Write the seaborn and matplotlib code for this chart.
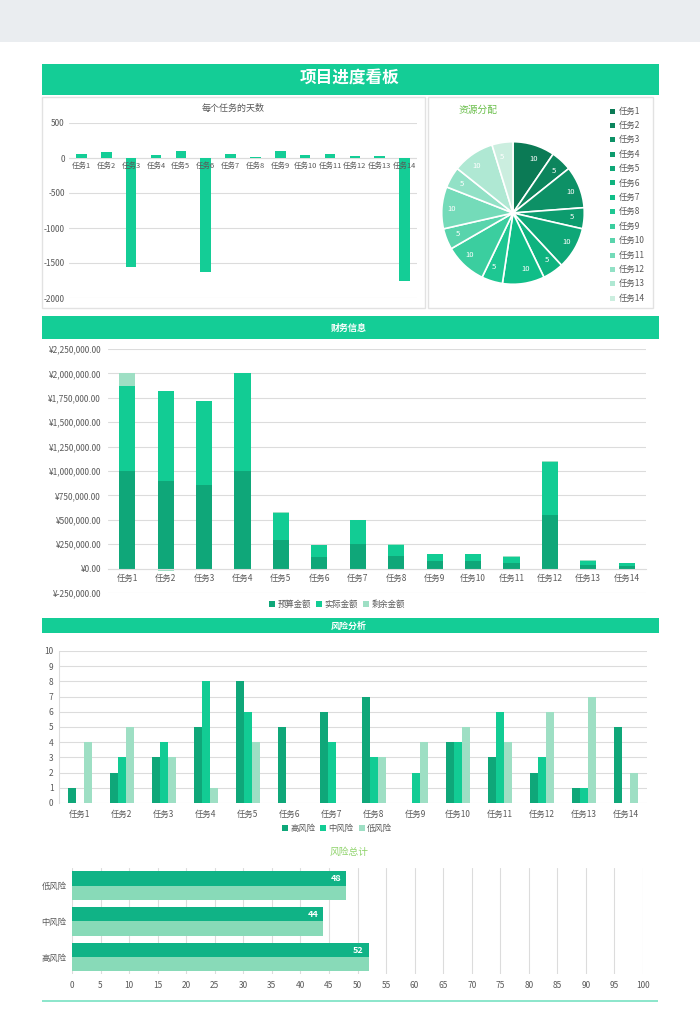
import pandas as pd
import seaborn as sns
import matplotlib.pyplot as plt
from matplotlib.patches import Rectangle
from matplotlib.ticker import FuncFormatter
from matplotlib.transforms import offset_copy

sns.set_style('white')
plt.rcParams['font.family'] = ['Noto Sans CJK SC', 'DejaVu Sans']
plt.rcParams['axes.unicode_minus'] = False

# data
tasks = ['任务1', '任务2', '任务3', '任务4', '任务5', '任务6', '任务7',
         '任务8', '任务9', '任务10', '任务11', '任务12', '任务13', '任务14']
days = [60, 90, -1560, 40, 105, -1630, 60, 15, 100, 40, 60, 25, 25, -1750]
resources = [10, 5, 10, 5, 10, 5, 10, 5, 10, 5, 10, 5, 10, 5]
budget = [1000000, 900000, 860000, 1000000, 290000, 120000, 250000,
          125000, 77000, 75000, 62000, 550000, 42000, 30000]
actual = [875000, 920000, 855000, 1000000, 280000, 120000, 245000,
          120000, 75000, 72000, 60000, 545000, 32000, 28000]
remaining = [125000, -20000, 5000, 0, 10000, 0, 5000,
             5000, 2000, 3000, 2000, 5000, 10000, 2000]
risk_high = [1, 2, 3, 5, 8, 5, 6, 7, 0, 4, 3, 2, 1, 5]
risk_mid = [0, 3, 4, 8, 6, 0, 4, 3, 2, 4, 6, 3, 1, 0]
risk_low = [4, 5, 3, 1, 4, 0, 0, 3, 4, 5, 4, 6, 7, 2]
risk_levels = ['低风险', '中风险', '高风险']
risk_totals = [48, 44, 52]

GREEN = '#14cd96'
DARK = '#0fa779'
MID = '#12cc94'
LIGHT = '#9edfc4'
GRID = '#dcdcdc'
TXT = '#595959'

W, H = 700, 1030
fig = plt.figure(figsize=(7, 10.3), dpi=100)


def px_axes(x0, y0, x1, y1):
    ax = fig.add_axes([x0 / W, 1 - y1 / H, (x1 - x0) / W, (y1 - y0) / H])
    ax.patch.set_alpha(0)
    return ax


def px_rect(x0, y0, x1, y1, **kw):
    fig.patches.append(Rectangle((x0 / W, 1 - y1 / H), (x1 - x0) / W, (y1 - y0) / H,
                                 transform=fig.transFigure, zorder=-1, **kw))


def px_text(x, y, s, **kw):
    fig.text(x / W, 1 - y / H, s, **kw)


# background pieces
px_rect(0, 0, 700, 42, color='#eaedf0', lw=0)
px_rect(42, 64, 659, 95, color=GREEN, lw=0)
px_text(350, 79, '项目进度看板', color='white', fontsize=12, fontweight='bold', ha='center', va='center')
px_rect(42, 97, 425, 308, facecolor='white', edgecolor='#e2e2e2', lw=1)
px_rect(428, 97, 653, 308, facecolor='white', edgecolor='#e2e2e2', lw=1)
px_rect(42, 316, 659, 339, color=GREEN, lw=0)
px_text(349, 328, '财务信息', color='white', fontsize=6.5, fontweight='bold', ha='center', va='center')
px_rect(42, 618, 659, 633, color=GREEN, lw=0)
px_text(349, 626, '风险分析', color='white', fontsize=6.5, fontweight='bold', ha='center', va='center')
px_text(349, 852, '风险总计', color='#8fd36b', fontsize=7, ha='center', va='center')
px_rect(42, 1000, 658, 1002, color='#8ee6cc', lw=0)


def style_axes(ax):
    for s in ax.spines.values():
        s.set_visible(False)
    ax.tick_params(length=0, labelsize=6, colors=TXT)
    ax.set_xlabel('')
    ax.set_ylabel('')


# chart 1: days per task
ax1 = px_axes(69, 123, 417, 298)
sns.barplot(x=tasks, y=days, color=GREEN, width=0.42, saturation=1, linewidth=0, ax=ax1)
style_axes(ax1)
ax1.set_ylim(-2000, 500)
ax1.set_yticks(range(-2000, 501, 500))
ax1.yaxis.grid(True, color=GRID, lw=0.8)
ax1.set_axisbelow(True)
ax1.axhline(0, color=GRID, lw=0.8, zorder=0.6)
ax1.set_xticks(range(len(tasks)), labels=[''] * len(tasks))
lab_tr = offset_copy(ax1.transData, fig=fig, y=-3, units='points')
for i, t in enumerate(tasks):
    ax1.text(i, 0, t, transform=lab_tr, ha='center', va='top', fontsize=5.4, color=TXT, zorder=5)
ax1.tick_params(axis='y', pad=3)
px_text(233, 108, '每个任务的天数', color=TXT, fontsize=6.5, ha='center', va='center')

# chart 2: resource pie
ax_pie = px_axes(441, 141, 585, 285)
pie_colors = sns.blend_palette(['#0b7a55', '#10c48c', '#cbeedf'], 14)
wedges, texts = ax_pie.pie(resources, colors=pie_colors, startangle=90, counterclock=False,
                           labels=[str(v) for v in resources], labeldistance=0.8,
                           wedgeprops=dict(edgecolor='white', linewidth=1.2),
                           textprops=dict(color='white', fontsize=5.5))
ax_pie.set_aspect('equal')
ax_pie.set_xlim(-1.01, 1.01)
ax_pie.set_ylim(-1.01, 1.01)
px_text(459, 110, '资源分配', color='#6abf4b', fontsize=7, ha='left', va='center')
for i, (t, c) in enumerate(zip(tasks, pie_colors)):
    y = 111 + i * 14.4
    px_rect(610, y - 2.5, 615, y + 2.5, color=c, lw=0)
    px_text(619, y, t, color=TXT, fontsize=6, ha='left', va='center')

# chart 3: finance (stacked)
ax2 = px_axes(108, 349, 646, 593)
sns.barplot(x=tasks, y=budget, color=DARK, width=0.42, saturation=1, linewidth=0,
            label='预算金额', ax=ax2)
sns.barplot(x=tasks, y=actual, color=MID, width=0.42, saturation=1, linewidth=0,
            label='实际金额', bottom=budget, ax=ax2)
rem_bottom = [b + a if r >= 0 else 0 for b, a, r in zip(budget, actual, remaining)]
sns.barplot(x=tasks, y=remaining, color=LIGHT, width=0.42, saturation=1, linewidth=0,
            label='剩余金额', bottom=rem_bottom, ax=ax2)
style_axes(ax2)
ax2.set_ylim(-250000, 2250000)
ax2.set_yticks(range(-250000, 2250001, 250000))
ax2.yaxis.set_major_formatter(FuncFormatter(lambda v, p: f'¥{v:,.2f}'))
ax2.yaxis.grid(True, color=GRID, lw=0.8)
ax2.set_axisbelow(True)
ax2.spines['bottom'].set_visible(True)
ax2.spines['bottom'].set_position(('data', 0))
ax2.spines['bottom'].set_color(GRID)
ax2.tick_params(axis='x', pad=4)
ax2.tick_params(axis='y', pad=5)
ax2.legend(loc='center', bbox_to_anchor=(337 / W, 1 - 604 / H), bbox_transform=fig.transFigure,
           ncol=3, frameon=False, fontsize=6, handlelength=0.7, handleheight=0.7,
           handletextpad=0.3, columnspacing=0.6, labelcolor=TXT)

# chart 4: risk analysis
ax3 = px_axes(59, 651, 647, 803)
risk_df = pd.DataFrame({
    'task': tasks * 3,
    'level': ['高风险'] * 14 + ['中风险'] * 14 + ['低风险'] * 14,
    'count': risk_high + risk_mid + risk_low,
})
sns.barplot(data=risk_df, x='task', y='count', hue='level', palette=[DARK, MID, LIGHT],
            width=0.57, saturation=1, linewidth=0, ax=ax3)
style_axes(ax3)
ax3.set_ylim(0, 10)
ax3.set_yticks(range(0, 11))
ax3.yaxis.grid(True, color=GRID, lw=0.8)
ax3.set_axisbelow(True)
ax3.spines['left'].set_visible(True)
ax3.spines['left'].set_color(GRID)
ax3.tick_params(axis='x', pad=5)
ax3.tick_params(axis='y', pad=4)
sns.move_legend(ax3, 'center', bbox_to_anchor=(337 / W, 1 - 828 / H), bbox_transform=fig.transFigure,
                ncol=3, frameon=False, title=None, fontsize=6, handlelength=0.7, handleheight=0.7,
                handletextpad=0.3, columnspacing=0.6, labelcolor=TXT)

# chart 5: risk totals
ax4 = px_axes(72, 868, 643, 974)
tot_df = pd.DataFrame({
    'level': risk_levels * 2,
    'total': risk_totals * 2,
    'part': ['a'] * 3 + ['b'] * 3,
})
sns.barplot(data=tot_df, y='level', x='total', hue='part', palette=['#10b386', '#88dab8'],
            width=0.8, saturation=1, linewidth=0, legend=False, orient='h', ax=ax4)
style_axes(ax4)
ax4.set_xlim(0, 100)
ax4.set_xticks(range(0, 101, 5))
ax4.set_ylim(2.47, -0.49)
ax4.xaxis.grid(True, color=GRID, lw=0.8)
ax4.set_axisbelow(True)
ax4.tick_params(axis='x', pad=5)
ax4.tick_params(axis='y', pad=4)
for bar in ax4.containers[0]:
    ax4.text(bar.get_width() - 0.9, bar.get_y() + bar.get_height() / 2, f'{bar.get_width():.0f}',
             color='white', fontsize=6.5, fontweight='bold', ha='right', va='center')

fig.savefig('out.png', dpi=100, facecolor='white')
